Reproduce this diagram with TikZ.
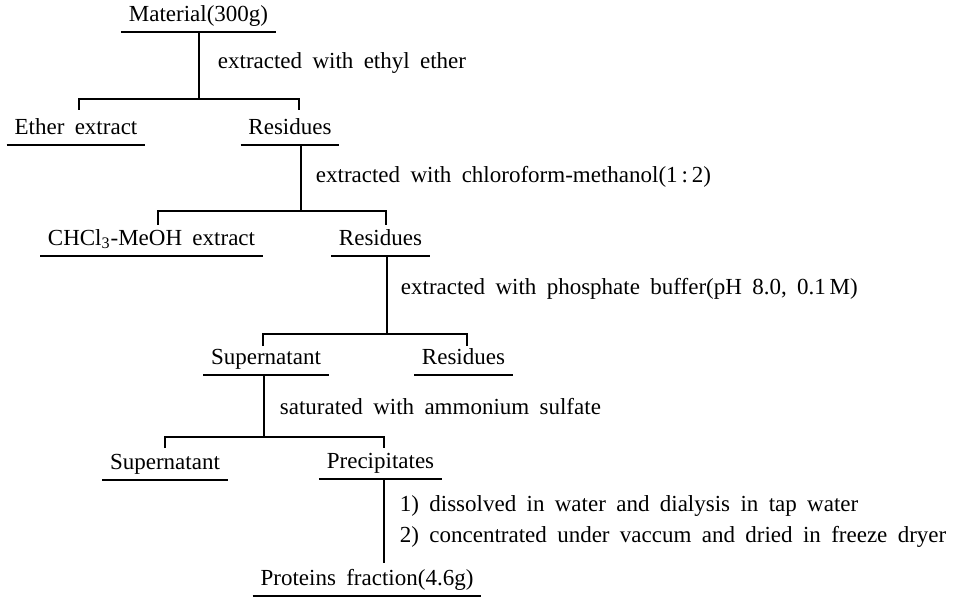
\documentclass[tikz,border=0pt]{standalone}
\usepackage{fontspec}
\setmainfont{Liberation Serif}
\usepackage{tikz}
\usetikzlibrary{positioning}

\newcommand{\flowfont}{\fontsize{11.5}{14}\selectfont\spaceskip=0.45em plus 0.1em\relax}

\begin{document}
\begin{tikzpicture}[x=0.5pt,y=-0.5pt,
			line width=0.9pt,
			prod/.style={
				anchor=south,
				inner xsep=3.5pt,
				inner ysep=2pt,
				text height=8pt,
				text depth=3pt,
				font=\flowfont
			},
			note/.style={
				anchor=base west,
				inner sep=0pt,
				font=\flowfont
			}]
			
			\useasboundingbox (0,0) rectangle (972,598);
			
			\node[prod](mat) at (198.5,32){Material(300g)};
			
			\node[prod](ether) at (76,145){Ether extract};
			\node[prod](res1) at (290,145){Residues};
			
			\node[prod](chcl) at (151.5,256){CHCl\textsubscript{3}-MeOH extract};
			\node[prod](res2) at (380.5,256){Residues};
			
			\node[prod](sup1) at (266,375){Supernatant};
			\node[prod](res3) at (463.5,375){Residues};
			
			\node[prod](sup2) at (165,480){Supernatant};
			\node[prod](prec) at (380.5,479){Precipitates};
			
			\node[prod](prot) at (367,596){Proteins fraction(4.6g)};
			
			% step labels
			\node[note](lab1) at (217,69){extracted with ethyl ether};
			\node[note](lab2) at (315,183){extracted with chloroform-methanol(1\,:\,2)};
			\node[note](lab3) at (400,294){extracted with phosphate buffer(pH 8.0, 0.1\,M)};
			\node[note](lab4) at (279,414){saturated with ammonium sulfate};
			\node[note](lab5) at (399,511){1) dissolved in water and dialysis in tap water};
			\node[note](lab6) at (399,542){2) concentrated under vaccum and dried in freeze dryer};
			
			% branch points
			\coordinate (j1) at (199,99);
			\coordinate (t1l) at (79,110);
			\coordinate (t1r) at (299,110);
			\coordinate (j2) at (301,211);
			\coordinate (t2l) at (158,225);
			\coordinate (t2r) at (386,225);
			\coordinate (j3) at (387,334);
			\coordinate (t3l) at (263,346);
			\coordinate (t3r) at (467,346);
			\coordinate (j4) at (264,437);
			\coordinate (t4l) at (165,448);
			\coordinate (t4r) at (384,448);
			\coordinate (j5) at (384,563);
			
			\foreach \n in {mat,ether,res1,chcl,res2,sup1,res3,sup2,prec,prot}
				\draw (\n.south west)--(\n.south east);
			
			\draw (mat.south -| j1)--(j1);
			\draw (t1l) |- (j1) -| (t1r);
			
			\draw (res1.south -| j2)--(j2);
			\draw (t2l) |- (j2) -| (t2r);
			
			\draw (res2.south -| j3)--(j3);
			\draw (t3l) |- (j3) -| (t3r);
			
			\draw (sup1.south -| j4)--(j4);
			\draw (t4l) |- (j4) -| (t4r);
			
			\draw (prec.south -| j5)--(j5);
			
		\end{tikzpicture}
\end{document}
